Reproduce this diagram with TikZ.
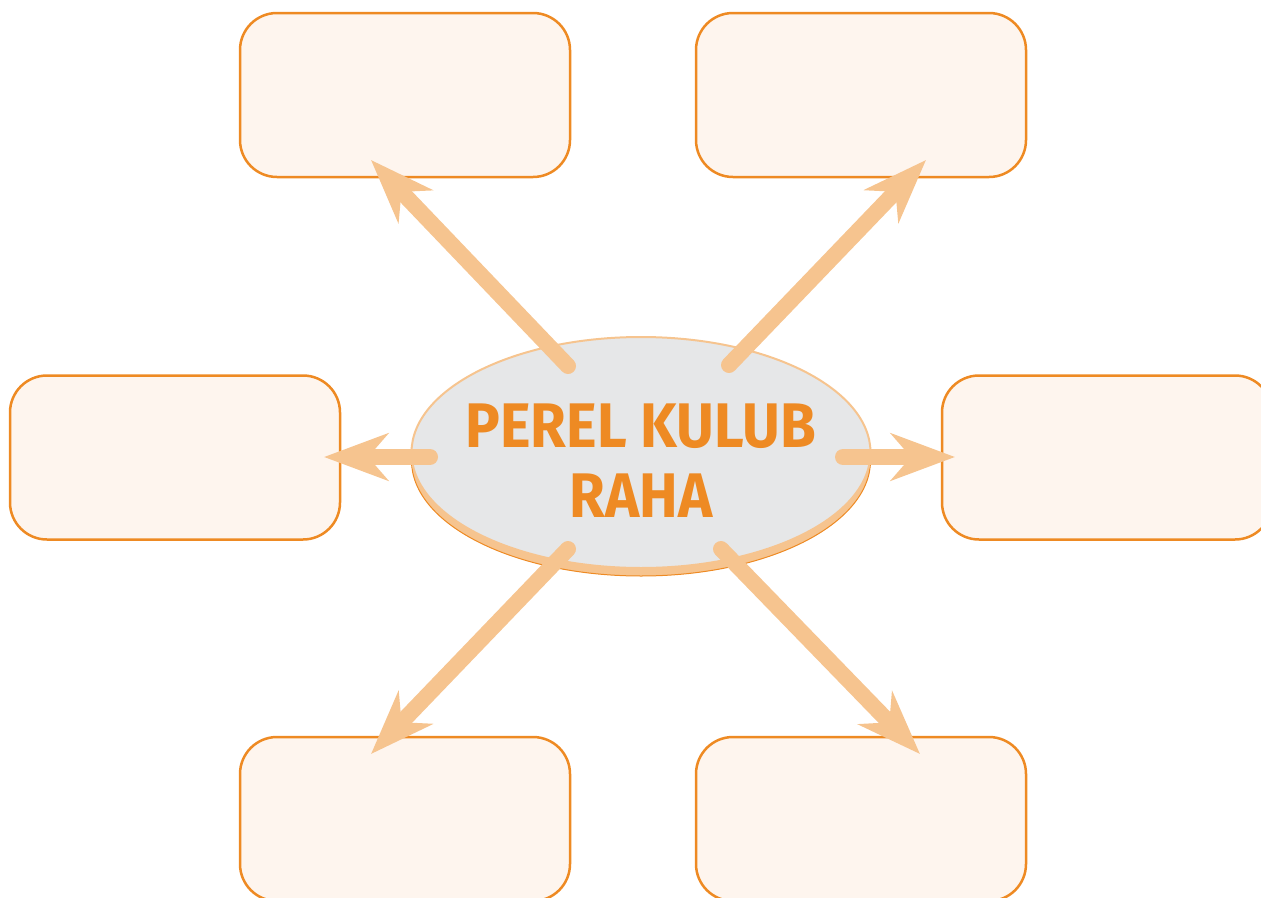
\documentclass[tikz,border=0pt]{standalone}
\usepackage{fontspec}
\setmainfont{Fira Sans}
\usepackage{xcolor}
\usepackage{tikz}
\usetikzlibrary{arrows.meta}
\usetikzlibrary{shapes.geometric}
\usetikzlibrary{shadows}

\definecolor{clubOrange}{HTML}{EE8A23}
\definecolor{clubPeach}{HTML}{F6C48F}
\definecolor{clubCream}{HTML}{FEF5EE}
\definecolor{clubGrey}{HTML}{E6E7E8}

\tikzset{
  infobox/.style={rounded corners=37, draw=clubOrange, line width=2.5, fill=clubCream,
    minimum width=330, minimum height=164, inner sep=0},
  pointer/.style={draw=clubPeach, line width=16, line cap=round,
    -{Stealth[length=64, width=47, inset=20]}}
}

\begin{document}
\begin{tikzpicture}[x=1pt,y=-1pt]
   \useasboundingbox (0,0) rectangle (1261,897);
   \node[infobox] (TL) at (405,95)    {};
   \node[infobox] (TR) at (861,95)    {};
   \node[infobox] (L)  at (175,457.5) {};
   \node[infobox] (R)  at (1107,457.5){};
   \node[infobox] (BL) at (405,819)   {};
   \node[infobox] (BR) at (861,819)   {};
   \node[ellipse, draw=clubPeach, line width=2, fill=clubGrey,
         minimum width=459, minimum height=231, inner sep=0,
         copy shadow={shadow xshift=0pt, shadow yshift=-8pt, fill=clubPeach, draw=clubOrange, line width=1}]
         (club) at (641,452.5) {};
   \node[align=center, text=clubOrange, font=\fontsize{63}{70}\selectfont\bfseries,
         xscale=0.92, transform shape]
         (title) at (641,461) {PEREL KULUB\\RAHA};
   % tails and tips
   \coordinate (tTL) at (568,366); \coordinate (hTL) at (371,160);
   \coordinate (tTR) at (729,365); \coordinate (hTR) at (926,160);
   \coordinate (tL)  at (430,457); \coordinate (hL)  at (324,457);
   \coordinate (tR)  at (843,457); \coordinate (hR)  at (955,457);
   \coordinate (tBL) at (568,549); \coordinate (hBL) at (371,754);
   \coordinate (tBR) at (721,549); \coordinate (hBR) at (920,754);
   \foreach \s in {TL,TR,L,R,BL,BR}
     \draw[pointer] (t\s) -- (h\s);
\end{tikzpicture}
\end{document}
